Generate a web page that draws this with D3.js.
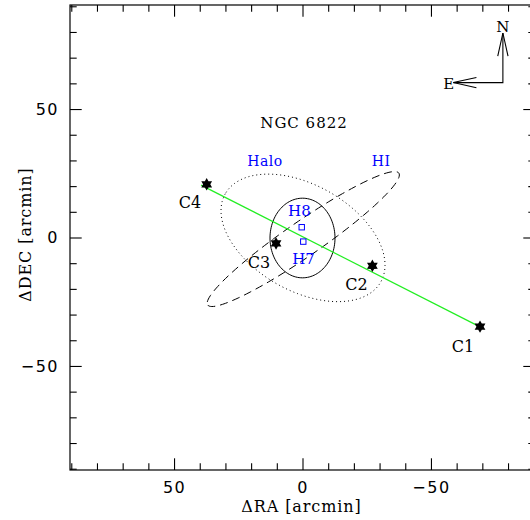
<!DOCTYPE html>
<html>
<head>
<meta charset="utf-8">
<title>NGC 6822</title>
<script src="https://d3js.org/d3.v7.min.js"></script>
<style>
  body { margin: 0; background: #fff; }
  .serif { font-family: "DejaVu Serif", serif; }
  .tick text { font-family: "DejaVu Sans", sans-serif; font-size: 16px; letter-spacing: 1.5px; fill: #000; }
</style>
</head>
<body>
<svg class="chart" width="530" height="520"></svg>
<script>
// star clusters
const clusterNames = ["C1", "C2", "C3", "C4"];
const clusterRA = [-69.1, -27.2, 10.3, 37.3];
const clusterDEC = [-34.7, -11.0, -2.3, 20.7];
const clusterLabelRA = [-62.5, -21.0, 16.9, 43.8];
const clusterLabelDEC = [-44.6, -20.4, -11.7, 11.3];

// HII regions
const hiiNames = ["H8", "H7"];
const hiiRA = [0.3, -0.3];
const hiiDEC = [4.0, -1.6];
const hiiLabelRA = [1.2, -0.4];
const hiiLabelDEC = [8.4, -10.5];

// green line through the clusters
const lineRA = [39.5, -69.1];
const lineDEC = [20.4, -34.8];

// ellipses: centre, semi axes (arcmin), position angle (deg, N through E)
const ellNames = ["core", "Halo", "HI"];
const ellRA = [0, -0.2, -0.3];
const ellDEC = [-0.2, -0.15, -0.6];
const ellA = [15.5, 34.8, 45.2];
const ellB = [12.65, 20.6, 6.8];
const ellPA = [0, 60.4, 124.6];
const ellDash = ["none", "1,3", "8,5"];

// text labels
const labelText = ["NGC 6822", "Halo", "HI"];
const labelRA = [-0.6, 14.6, -30.6];
const labelDEC = [42.6, 27.8, 27.8];
const labelColor = ["#000", "#0000ff", "#0000ff"];

// compass
const compassRA = -78.0, compassDEC = 60.3, compassArm = 19.3, headLen = 9, headHalf = 2;

const majorTicks = [-50, 0, 50];
const minorTicks = d3.range(-90, 91, 10).filter(d => d % 50 !== 0);

const svg = d3.select("svg.chart");
const mLeft = 70, mRight = 535, mTop = 5, mBottom = 470;

const x = d3.scaleLinear().domain([90.5, -90.5]).range([mLeft, mRight]);
const y = d3.scaleLinear().domain([90.5, -90.5]).range([mTop, mBottom]);

// frame
svg.append("rect")
  .attr("x", mLeft).attr("y", mTop)
  .attr("width", mRight - mLeft).attr("height", mBottom - mTop)
  .attr("fill", "none").attr("stroke", "#000").attr("stroke-width", 1.2);

// axes with inward ticks
function addAxis(axis, tx, ty, ticks, size, labels) {
  const g = svg.append("g")
    .attr("transform", "translate(" + tx + "," + ty + ")")
    .call(axis.tickValues(ticks).tickSize(-size).tickSizeOuter(0));
  if (!labels) g.selectAll("text").remove();
  g.select(".domain").remove();
  g.selectAll("line").attr("stroke", "#000").attr("stroke-width", 1.1);
  return g;
}
addAxis(d3.axisBottom(x).tickPadding(12), 0, mBottom, majorTicks, 11.7, true);
addAxis(d3.axisBottom(x), 0, mBottom, minorTicks, 6.7, false);
addAxis(d3.axisTop(x), 0, mTop, majorTicks, 11.7, false);
addAxis(d3.axisTop(x), 0, mTop, minorTicks, 6.7, false);
addAxis(d3.axisLeft(y).tickPadding(11), mLeft, 0, majorTicks, 11.7, true);
addAxis(d3.axisLeft(y), mLeft, 0, minorTicks, 6.7, false);
addAxis(d3.axisRight(y), mRight, 0, majorTicks, 11.7, false);
addAxis(d3.axisRight(y), mRight, 0, minorTicks, 6.7, false);

// axis titles
svg.append("text").attr("class", "serif")
  .attr("x", (mLeft + mRight) / 2 - 1).attr("y", 512)
  .attr("text-anchor", "middle").attr("font-size", 16).attr("letter-spacing", 0.9)
  .text("ΔRA [arcmin]");
svg.append("text").attr("class", "serif")
  .attr("transform", "translate(31," + (y(0) - 3) + ") rotate(-90)")
  .attr("text-anchor", "middle").attr("font-size", 16).attr("letter-spacing", 0.9)
  .text("ΔDEC [arcmin]");

const plot = svg.append("g");

// ellipses
const line = d3.line().x(d => x(d[0])).y(d => y(d[1]));
const steps = d3.range(0, 361, 3).map(d => d * Math.PI / 180);
ellNames.forEach((name, i) => {
  const pa = ellPA[i] * Math.PI / 180;
  const pts = steps.map(t => [
    ellRA[i] + ellA[i] * Math.cos(t) * Math.sin(pa) + ellB[i] * Math.sin(t) * Math.cos(pa),
    ellDEC[i] + ellA[i] * Math.cos(t) * Math.cos(pa) - ellB[i] * Math.sin(t) * Math.sin(pa)
  ]);
  plot.append("path")
    .attr("d", line(pts))
    .attr("fill", "none")
    .attr("stroke", "#000")
    .attr("stroke-width", 1)
    .attr("stroke-dasharray", ellDash[i]);
});

// green line
plot.append("path")
  .attr("d", line(lineRA.map((d, i) => [d, lineDEC[i]])))
  .attr("stroke", "#22ee22").attr("stroke-width", 1.2).attr("fill", "none");

// six pointed stars
const star6 = {
  draw(context, size) {
    const r = Math.sqrt(size) / 2, ri = r * 0.58;
    for (let k = 0; k < 12; k++) {
      const a = k * Math.PI / 6 - Math.PI / 2;
      const rr = k % 2 ? ri : r;
      if (k === 0) context.moveTo(rr * Math.cos(a), rr * Math.sin(a));
      else context.lineTo(rr * Math.cos(a), rr * Math.sin(a));
    }
    context.closePath();
  }
};
plot.selectAll(".star").data(clusterNames).enter()
  .append("path")
  .attr("transform", (d, i) => "translate(" + x(clusterRA[i]) + "," + y(clusterDEC[i]) + ")")
  .attr("d", d3.symbol().type(star6).size(155))
  .attr("fill", "#000");

plot.selectAll(".clabel").data(clusterNames).enter()
  .append("text").attr("class", "serif")
  .attr("x", (d, i) => x(clusterLabelRA[i]))
  .attr("y", (d, i) => y(clusterLabelDEC[i]))
  .attr("text-anchor", "middle").attr("font-size", 16)
  .text(d => d);

// HII regions
plot.selectAll(".hii").data(hiiNames).enter()
  .append("rect")
  .attr("x", (d, i) => x(hiiRA[i]) - 2.7)
  .attr("y", (d, i) => y(hiiDEC[i]) - 2.7)
  .attr("width", 5.4).attr("height", 5.4)
  .attr("fill", "none").attr("stroke", "#0000ff").attr("stroke-width", 1);

plot.selectAll(".hlabel").data(hiiNames).enter()
  .append("text").attr("class", "serif")
  .attr("x", (d, i) => x(hiiLabelRA[i]))
  .attr("y", (d, i) => y(hiiLabelDEC[i]))
  .attr("text-anchor", "middle").attr("font-size", 15)
  .attr("fill", "#0000ff")
  .text(d => d);

plot.selectAll(".label").data(labelText).enter()
  .append("text").attr("class", "serif")
  .attr("x", (d, i) => x(labelRA[i]))
  .attr("y", (d, i) => y(labelDEC[i]))
  .attr("text-anchor", "middle").attr("font-size", (d, i) => i === 0 ? 15 : 14)
  .attr("letter-spacing", (d, i) => i === 0 ? 1 : 0.5)
  .attr("fill", (d, i) => labelColor[i])
  .text(d => d);

// compass
const nTip = [compassRA, compassDEC + compassArm];
const eTip = [compassRA + compassArm, compassDEC];
const comp = svg.append("g").attr("fill", "none").attr("stroke", "#000").attr("stroke-width", 1.1);
comp.append("path").attr("d", line([eTip, [compassRA, compassDEC], nTip]));
comp.append("path").attr("d", line([[nTip[0] + headHalf, nTip[1] - headLen], nTip, [nTip[0] - headHalf, nTip[1] - headLen]]));
comp.append("path").attr("d", line([[eTip[0] - headLen, eTip[1] + headHalf], eTip, [eTip[0] - headLen, eTip[1] - headHalf]]));
svg.append("text").attr("class", "serif")
  .attr("x", x(nTip[0])).attr("y", y(nTip[1]) - 1)
  .attr("text-anchor", "middle").attr("font-size", 15).text("N");
svg.append("text").attr("class", "serif")
  .attr("x", x(eTip[0]) + 1).attr("y", y(eTip[1]) + 6)
  .attr("text-anchor", "end").attr("font-size", 15).text("E");
</script>
</body>
</html>
